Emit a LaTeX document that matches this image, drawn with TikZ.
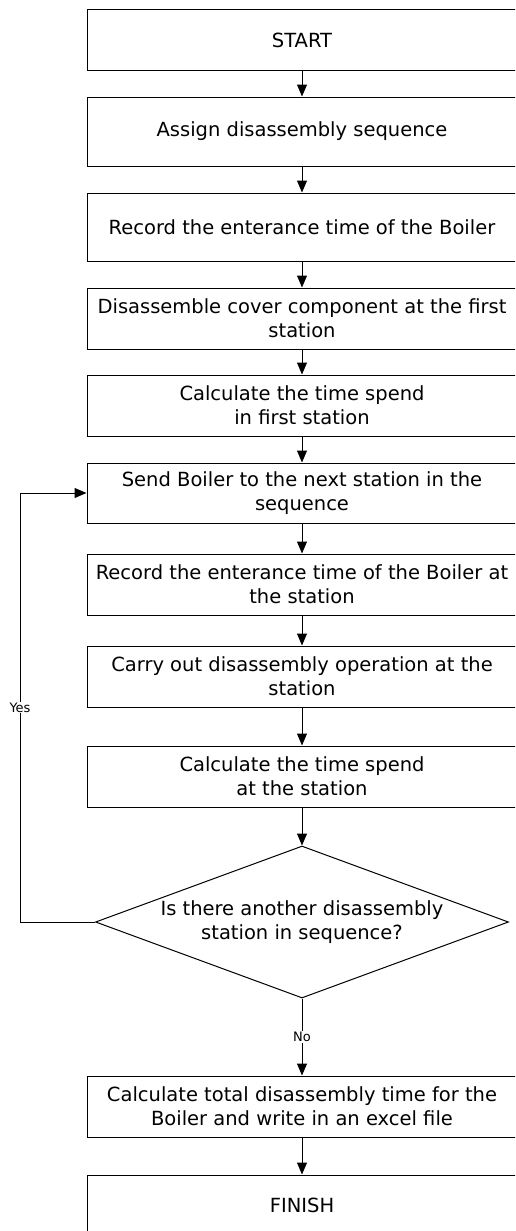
\documentclass[tikz,border=0pt]{standalone}
\usepackage{fontspec}
\setmainfont{DejaVu Sans}
\usetikzlibrary{shapes.geometric,arrows.meta}
\tikzset{
  stepbox/.style={draw,line width=1pt,minimum width=430pt,minimum height=61pt,inner sep=0pt,align=center,font=\fontsize{19.5}{24}\selectfont},
  decision/.style={draw,diamond,line width=1pt,minimum width=413pt,minimum height=152pt,aspect=2.72,inner sep=0pt,align=center,font=\fontsize{19.5}{24}\selectfont},
  arr/.style={line width=1pt,-{Triangle[length=12pt,width=10pt]}},
  lbl/.style={fill=white,inner sep=1pt,font=\fontsize{13}{15}\selectfont}
}
\begin{document}
\begin{tikzpicture}[x=1pt,y=-1pt]
    \clip (0,0) rectangle (515,1231);
    % first station
    \node[stepbox] (start) at (302,40.5) {START};
    \node[stepbox,minimum height=69pt] (assign) at (302,131.5) {Assign disassembly sequence};
    \node[stepbox,minimum height=68pt] (rec) at (302,227) {Record the enterance time of the Boiler};
    \node[stepbox] (cover) at (302,318.5) {Disassemble cover component at the first\\station};
    \node[stepbox] (calcone) at (302,405.5) {Calculate the time spend\\in first station};
    % loop over stations
    \node[stepbox,minimum height=60pt] (send) at (302,493) {Send Boiler to the next station in the\\sequence};
    \node[stepbox] (recat) at (302,584.5) {Record the enterance time of the Boiler at\\the station};
    \node[stepbox] (carry) at (302,676.5) {Carry out disassembly operation at the\\station};
    \node[stepbox] (calcat) at (302,776.5) {Calculate the time spend\\at the station};
    \node[decision] (more) at (302,922) {Is there another disassembly\\station in sequence?};
    % end
    \node[stepbox] (total) at (302,1106.5) {Calculate total disassembly time for the\\Boiler and write in an excel file};
    \node[stepbox] (finish) at (302,1205.5) {FINISH};

    \draw[arr] (start) -- (assign);
    \draw[arr] (assign) -- (rec);
    \draw[arr] (rec) -- (cover);
    \draw[arr] (cover) -- (calcone);
    \draw[arr] (calcone) -- (send);
    \draw[arr] (send) -- (recat);
    \draw[arr] (recat) -- (carry);
    \draw[arr] (carry) -- (calcat);
    \draw[arr] (calcat) -- (more);
    \draw[arr] (more.west) -- ++(-75,0) |- node[pos=0.25,lbl] {Yes} (send.west);
    \draw[arr] (more.south) -- node[lbl] {No} (total.north);
    \draw[arr] (total) -- (finish);
\end{tikzpicture}
\end{document}
